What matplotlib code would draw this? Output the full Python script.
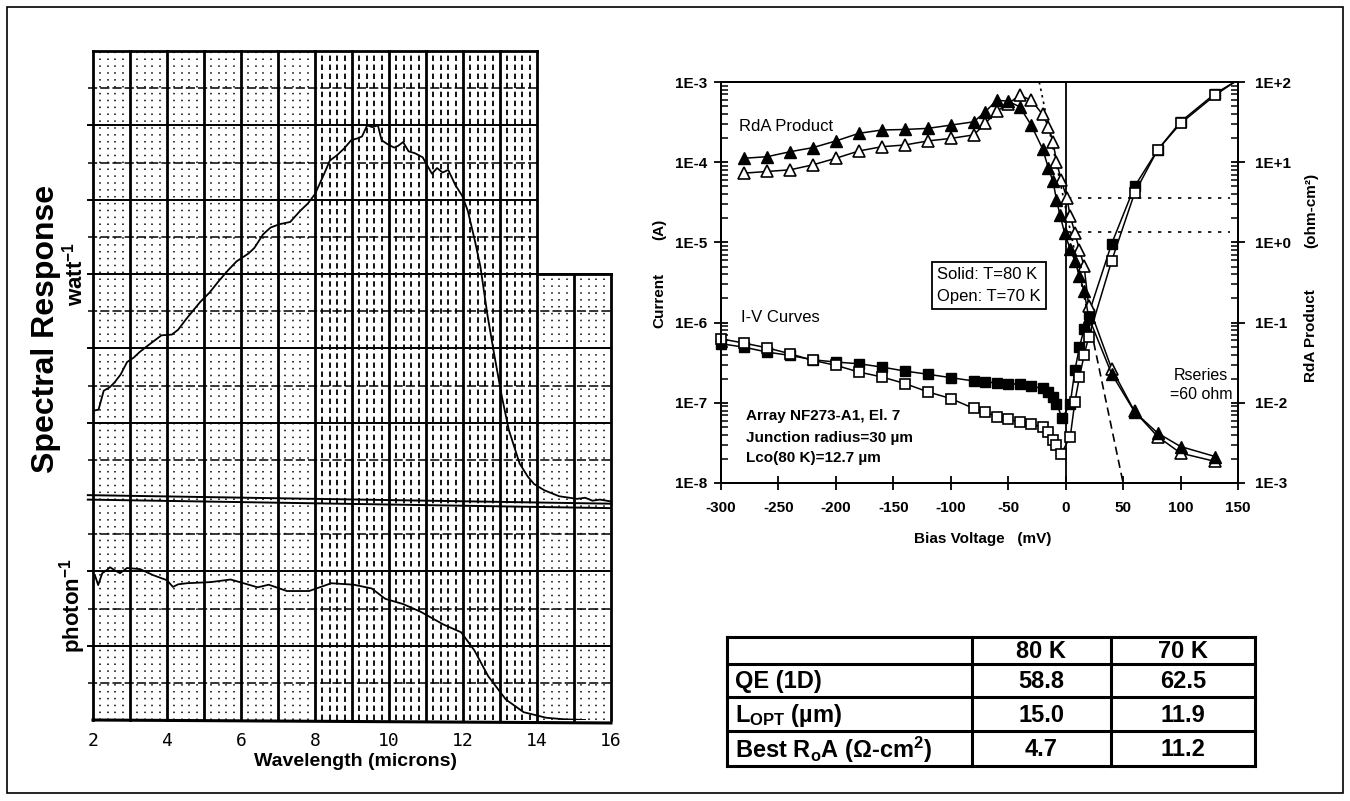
import numpy as np
import matplotlib
matplotlib.use("Agg")
import matplotlib.pyplot as plt
from matplotlib.patches import Rectangle
from matplotlib.ticker import FixedLocator, FixedFormatter, LogLocator, NullFormatter

W, H = 1350, 801

# --- spectral response, in squares of the strip-chart paper ---
watt_wl = [2.0, 2.15, 2.29, 2.45, 2.58, 2.75, 2.92, 3.1, 3.26, 3.45, 3.65, 3.85, 4.13, 4.3,
           4.52, 4.9, 5.15, 5.39, 5.65, 5.88, 6.2, 6.36, 6.6, 6.8, 7.04, 7.33, 7.6, 7.81, 8.0,
           8.25, 8.4, 8.6, 8.78, 8.98, 9.15, 9.27, 9.41, 9.55, 9.7, 9.8, 9.95, 10.14, 10.25,
           10.38, 10.53, 10.7, 10.91, 11.16, 11.3, 11.45, 11.6, 11.79, 11.98, 12.13, 12.32,
           12.47, 12.66, 12.85, 13.05, 13.24, 13.53, 13.75, 13.92, 14.2, 14.6, 15.08, 15.3,
           15.5, 15.7, 16.0]
watt_resp = [8.32, 8.35, 8.86, 8.95, 9.08, 9.3, 9.63, 9.75, 9.9, 10.05, 10.2, 10.35, 10.37, 10.5,
             10.79, 11.25, 11.5, 11.8, 12.1, 12.34, 12.55, 12.7, 13.07, 13.25, 13.34, 13.4, 13.7,
             13.9, 14.15, 14.7, 15.05, 15.2, 15.37, 15.6, 15.65, 15.7, 16.0, 15.95, 16.0, 15.6,
             15.5, 15.4, 15.45, 15.55, 15.3, 15.25, 15.14, 14.7, 14.85, 14.73, 14.8, 14.4, 14.1,
             13.7, 12.9, 12.2, 10.9, 9.8, 8.7, 7.8, 6.9, 6.55, 6.35, 6.18, 6.02, 5.95, 5.98,
             5.9, 5.93, 5.88]
photon_wl = [2.05, 2.14, 2.25, 2.37, 2.46, 2.6, 2.73, 2.92, 3.27, 3.62, 4.0, 4.16, 4.3, 4.54,
             5.18, 5.72, 6.0, 6.45, 6.75, 7.24, 7.84, 8.44, 9.05, 9.53, 9.9, 10.38, 10.86, 11.47,
             11.95, 12.31, 12.68, 13.16, 13.64, 14.25, 14.73, 15.3]
photon_resp = [3.9, 3.63, 3.95, 4.03, 4.11, 4.02, 3.95, 4.09, 4.06, 3.9, 3.76, 3.58, 3.65, 3.68,
               3.71, 3.78, 3.7, 3.57, 3.64, 3.47, 3.47, 3.68, 3.64, 3.54, 3.26, 3.12, 2.91, 2.57,
               2.36, 1.87, 1.18, 0.55, 0.21, 0.06, 0.02, 0.0]
wl_ticks = [2, 4, 6, 8, 10, 12, 14, 16]

# --- RdA product (ohm-cm2) vs bias (mV) ---
rda_v_80 = [-280, -260, -240, -220, -200, -180, -160, -140, -120, -100, -80, -70, -60, -50, -40,
            -30, -20, -15, -11, -8, -5, -1, 4, 8, 12, 16, 20, 40, 60, 80, 100, 130]
rda_80 = [11.2, 11.7, 13.5, 15.2, 18.4, 22.9, 25.2, 25.6, 26.4, 29.0, 31.9, 42.5, 59.3, 57.6, 49.0,
          29.0, 14.6, 8.4, 5.75, 3.41, 2.22, 1.32, 0.82, 0.59, 0.38, 0.25, 0.117, 0.023, 0.0077,
          0.0042, 0.00285, 0.00214]
rda_v_70 = [-280, -260, -240, -220, -200, -180, -160, -140, -120, -100, -80, -70, -60, -50, -40,
            -30, -20, -15, -11, -8, -4, 1, 4, 8, 12, 16, 20, 40, 60, 80, 100, 130]
rda_70 = [7.3, 7.66, 8.03, 9.27, 11.2, 13.8, 15.6, 16.4, 18.4, 19.8, 21.9, 30.4, 43.3, 53.8, 68.4,
          59.3, 39.4, 27.7, 18.0, 10.2, 6.04, 3.58, 2.12, 1.32, 0.8, 0.51, 0.162, 0.0267, 0.0078,
          0.0038, 0.00236, 0.00186]

# --- I-V curves, current (A) vs bias (mV); last point is where the line leaves the frame ---
iv_v_80 = [-300, -280, -260, -240, -220, -200, -180, -160, -140, -120, -100, -80, -70, -60, -50,
           -40, -30, -20, -15, -11, -8, -3, 4, 8, 12, 16, 20, 40, 60, 80, 100, 130, 147]
iv_i_80 = [5.45e-7, 4.94e-7, 4.29e-7, 3.9e-7, 3.44e-7, 3.22e-7, 3.07e-7, 2.79e-7, 2.49e-7, 2.27e-7,
           2.06e-7, 1.87e-7, 1.82e-7, 1.77e-7, 1.74e-7, 1.70e-7, 1.61e-7, 1.51e-7, 1.37e-7, 1.19e-7,
           9.8e-8, 6.4e-8, 9.8e-8, 2.54e-7, 4.94e-7, 8.34e-7, 1.28e-6, 9.6e-6, 4.99e-5, 1.42e-4,
           3.19e-4, 7.17e-4, 1e-3]
iv_v_70 = [-300, -280, -260, -240, -220, -200, -180, -160, -140, -120, -100, -80, -70, -60, -50,
           -40, -30, -20, -15, -11, -8, -4, 4, 8, 12, 16, 20, 40, 60, 80, 100, 130, 147]
iv_i_70 = [6.28e-7, 5.55e-7, 4.85e-7, 4.09e-7, 3.38e-7, 2.93e-7, 2.42e-7, 2.1e-7, 1.74e-7, 1.37e-7,
           1.13e-7, 8.5e-8, 7.73e-8, 6.7e-8, 6.21e-8, 5.81e-8, 5.44e-8, 4.94e-8, 4.36e-8, 3.44e-8,
           3.0e-8, 2.3e-8, 3.79e-8, 1.03e-7, 2.1e-7, 3.9e-7, 6.58e-7, 5.87e-6, 4.13e-5, 1.42e-4,
           3.04e-4, 6.84e-4, 1e-3]

# diode fit line and R0A guide levels
fit_v = [-23.0, 50.0]
fit_i = [1e-3, 1e-8]
r0a_levels = [3.6, 1.35]
r0a_v = [2, 143]

bias_ticks = [-300, -250, -200, -150, -100, -50, 0, 50, 100, 150]
current_ticks = [1e-8, 1e-7, 1e-6, 1e-5, 1e-4, 1e-3]
current_labels = ['1E-8', '1E-7', '1E-6', '1E-5', '1E-4', '1E-3']
rda_ticks = [1e-3, 1e-2, 1e-1, 1e0, 1e1, 1e2]
rda_labels = ['1E-3', '1E-2', '1E-1', '1E+0', '1E+1', '1E+2']

# --- table ---
table_header = ['', '80 K', '70 K']
table_rows = ['QE (1D)', r'L$_\mathregular{OPT}$ (µm)', r'Best R$_\mathregular{o}$A (Ω-cm$^\mathregular{2}$)']
table_80k = ['58.8', '15.0', '4.7']
table_70k = ['62.5', '11.9', '11.2']


def px_box(left, top, right, bottom):
    """Axes rectangle from pixel edges (origin top-left)."""
    return [left / W, 1 - bottom / H, (right - left) / W, (bottom - top) / H]


def fig_text(fig, x, y, s, **kw):
    fig.text(x / W, 1 - y / H, s, ha='center', va='center', **kw)


def draw_spectral_panel(fig):
    ax = fig.add_axes(px_box(93, 51, 611, 720))
    ax.set_xlim(2, 16)
    ax.set_ylim(0, 18)
    for s in ax.spines.values():
        s.set_visible(False)
    ax.set_yticks([])
    ax.set_xticks(wl_ticks)
    ax.set_xticklabels([str(t) for t in wl_ticks], fontfamily='DejaVu Sans Mono',
                       fontweight='normal', fontsize=13)
    ax.tick_params(axis='x', length=0, pad=9)

    # chart paper: dotted minor verticals, denser/darker in the 8-14 um band
    for x in np.round(np.arange(2.2, 16.0, 0.2), 1):
        if float(x).is_integer():
            continue
        top = 18 if x < 14 else 12
        if 8 < x < 14:
            ax.plot([x, x], [0, top], color='black', lw=1.3, ls=(0, (3, 2)), zorder=1)
        else:
            ax.plot([x, x], [0, top], color='black', lw=1.1, ls=(0, (1, 3.5)), zorder=1)

    for u in range(1, 18):
        if u == 6:
            continue
        right = 16 if u <= 12 else 14
        if u % 2 == 0:
            ax.plot([1.86, right], [u, u], color='black', lw=1.4, zorder=2, clip_on=False)
        else:
            ax.plot([1.86, right], [u, u], color='black', lw=1.1, ls=(0, (6, 2)), zorder=2,
                    clip_on=False)

    for x in range(2, 17):
        top = 18 if x <= 14 else 12
        ax.plot([x, x], [0, top], color='black', lw=2.0, zorder=2, clip_on=False)
    ax.plot([2, 14], [18, 18], color='black', lw=2.0, clip_on=False)
    ax.plot([14, 16], [12, 12], color='black', lw=2.0, clip_on=False)
    ax.plot([2, 16], [0, -0.08], color='black', lw=2.2, clip_on=False)
    ax.plot([1.86, 16], [6.05, 5.82], color='black', lw=1.4, clip_on=False)
    ax.plot([1.86, 16], [5.93, 5.7], color='black', lw=1.4, clip_on=False)

    ax.plot(watt_wl, watt_resp, color='black', lw=1.3, zorder=5)
    ax.plot(photon_wl, photon_resp, color='black', lw=1.3, zorder=5)

    fig_text(fig, 46, 329, 'Spectral Response', rotation=90, fontsize=23, fontweight='bold')
    fig_text(fig, 75, 274, r'watt$^\mathregular{-1}$', rotation=90, fontsize=16, fontweight='bold')
    fig_text(fig, 73, 606, r'photon$^\mathregular{-1}$', rotation=90, fontsize=16, fontweight='bold')
    fig_text(fig, 356, 762, 'Wavelength (microns)', fontsize=14, fontweight='bold')


def draw_iv_panel(fig):
    ax = fig.add_axes(px_box(721, 82, 1238, 483))
    ax.set_xlim(-300, 150)
    ax.set_yscale('log')
    ax.set_ylim(1e-8, 1e-3)
    ax2 = ax.twinx()
    ax2.set_yscale('log')
    ax2.set_ylim(1e-3, 1e2)

    for a in (ax, ax2):
        for s in a.spines.values():
            s.set_linewidth(1.4)
        a.yaxis.set_minor_locator(LogLocator(base=10, subs=np.arange(2, 10)))
        a.yaxis.set_minor_formatter(NullFormatter())
        a.tick_params(axis='y', which='major', direction='inout', length=10, width=1.3,
                      labelsize=11)
        a.tick_params(axis='y', which='minor', direction='in', length=5, width=1.1)
    ax.yaxis.set_major_locator(FixedLocator(current_ticks))
    ax.yaxis.set_major_formatter(FixedFormatter(current_labels))
    ax.tick_params(axis='y', which='major', pad=5)
    ax2.yaxis.set_major_locator(FixedLocator(rda_ticks))
    ax2.yaxis.set_major_formatter(FixedFormatter(rda_labels))
    ax2.tick_params(axis='y', which='major', pad=7)
    ax.set_xticks(bias_ticks)
    ax.tick_params(axis='x', which='major', direction='inout', length=10, width=1.3,
                   labelsize=11, pad=8)

    ax.axvline(0, color='black', lw=1.3, zorder=1)

    # diode fit: dotted above, dashed below
    split_v = 22.0
    split_i = 10 ** np.interp(split_v, fit_v, np.log10(fit_i))
    ax.plot([fit_v[0], split_v], [fit_i[0], split_i], color='black', lw=1.2, ls=(0, (1.5, 2.5)))
    ax.plot([split_v, fit_v[1]], [split_i, fit_i[1]], color='black', lw=1.2, ls=(0, (5, 3)))
    ax2.hlines(r0a_levels, r0a_v[0], r0a_v[1], colors='black', lw=1.2, linestyles=(0, (2, 4)))

    ax.plot(iv_v_80, iv_i_80, color='black', lw=1.1, marker='s', ms=7, mfc='black',
            mec='black', markevery=slice(0, -1), zorder=4, clip_on=False)
    ax.plot(iv_v_70, iv_i_70, color='black', lw=1.1, marker='s', ms=7.5, mfc='white',
            mec='black', mew=1.2, markevery=slice(0, -1), zorder=4, clip_on=False)
    ax2.plot(rda_v_70, rda_70, color='black', lw=1.1, marker='^', ms=8.5, mfc='white',
             mec='black', mew=1.2, zorder=4)
    ax2.plot(rda_v_80, rda_80, color='black', lw=1.1, marker='^', ms=8, mfc='black',
             mec='black', zorder=5)

    ax.text(-284, 2.77e-4, 'RdA Product', fontsize=12, fontweight='normal', va='center')
    ax.text(-283, 1.17e-6, 'I-V Curves', fontsize=12, fontweight='normal', va='center')
    ax.text(-278, 6.8e-8, 'Array NF273-A1, El. 7', fontsize=11, fontweight='bold', va='center')
    ax.text(-278, 3.6e-8, 'Junction radius=30 µm', fontsize=11, fontweight='bold', va='center')
    ax.text(-278, 2.05e-8, 'Lco(80 K)=12.7 µm', fontsize=11, fontweight='bold', va='center')
    ax.text(118, 2.2e-7, 'Rseries', fontsize=11.5, fontweight='normal', ha='center', va='center')
    ax.text(118, 1.26e-7, '=60 ohm', fontsize=11.5, fontweight='normal', ha='center', va='center')
    ax.text(-112, 2.9e-6, 'Solid: T=80 K\nOpen: T=70 K', fontsize=12, fontweight='normal',
            ha='left', va='center', linespacing=1.55,
            bbox=dict(boxstyle='square,pad=0.3', fc='white', ec='black', lw=1.3))

    fig_text(fig, 659, 300, 'Current', rotation=90, fontsize=11, fontweight='bold')
    fig_text(fig, 659, 229, '(A)', rotation=90, fontsize=11, fontweight='bold')
    fig_text(fig, 1311, 336, 'RdA Product', rotation=90, fontsize=11, fontweight='bold')
    fig_text(fig, 1311, 210, '(ohm-cm²)', rotation=90, fontsize=11, fontweight='bold')
    fig_text(fig, 983, 539, 'Bias Voltage   (mV)', fontsize=11, fontweight='bold')


def draw_table(fig):
    ax = fig.add_axes(px_box(727, 637, 1255, 766))
    ax.set_xlim(0, 1)
    ax.set_ylim(1, 0)
    ax.axis('off')
    col_edges = [0.0, 0.464, 0.727, 1.0]
    row_edges = [0.0, 0.209, 0.465, 0.729, 1.0]
    for x in col_edges:
        ax.plot([x, x], [0, 1], color='black', lw=2.2, clip_on=False, solid_capstyle='projecting')
    for y in row_edges:
        ax.plot([0, 1], [y, y], color='black', lw=2.2, clip_on=False, solid_capstyle='projecting')

    centers_x = [(col_edges[i] + col_edges[i + 1]) / 2 for i in range(3)]
    centers_y = [(row_edges[i] + row_edges[i + 1]) / 2 for i in range(4)]
    for j, h in enumerate(table_header[1:], start=1):
        ax.text(centers_x[j], centers_y[0] + 0.01, h, ha='center', va='center', fontsize=17,
                fontweight='bold')
    for i, (lab, a, b) in enumerate(zip(table_rows, table_80k, table_70k), start=1):
        y = centers_y[i] + 0.01
        ax.text(0.015, y, lab, ha='left', va='center', fontsize=17, fontweight='bold')
        ax.text(centers_x[1], y, a, ha='center', va='center', fontsize=17, fontweight='bold')
        ax.text(centers_x[2], y, b, ha='center', va='center', fontsize=17, fontweight='bold')


if __name__ == "__main__":
    plt.rcParams.update({
        'font.family': 'Liberation Sans',
        'font.weight': 'bold',
        'axes.unicode_minus': False,
        'mathtext.default': 'regular',
    })
    fig = plt.figure(figsize=(W / 100, H / 100), dpi=100)
    fig.patch.set_facecolor('white')

    draw_spectral_panel(fig)
    draw_iv_panel(fig)
    draw_table(fig)

    fig.patches.append(Rectangle((7 / W, 1 - 793 / H), (1343 - 7) / W, (793 - 7) / H,
                                 transform=fig.transFigure, fill=False, ec='black', lw=1.2))
    fig.savefig('out.png', dpi=100)
